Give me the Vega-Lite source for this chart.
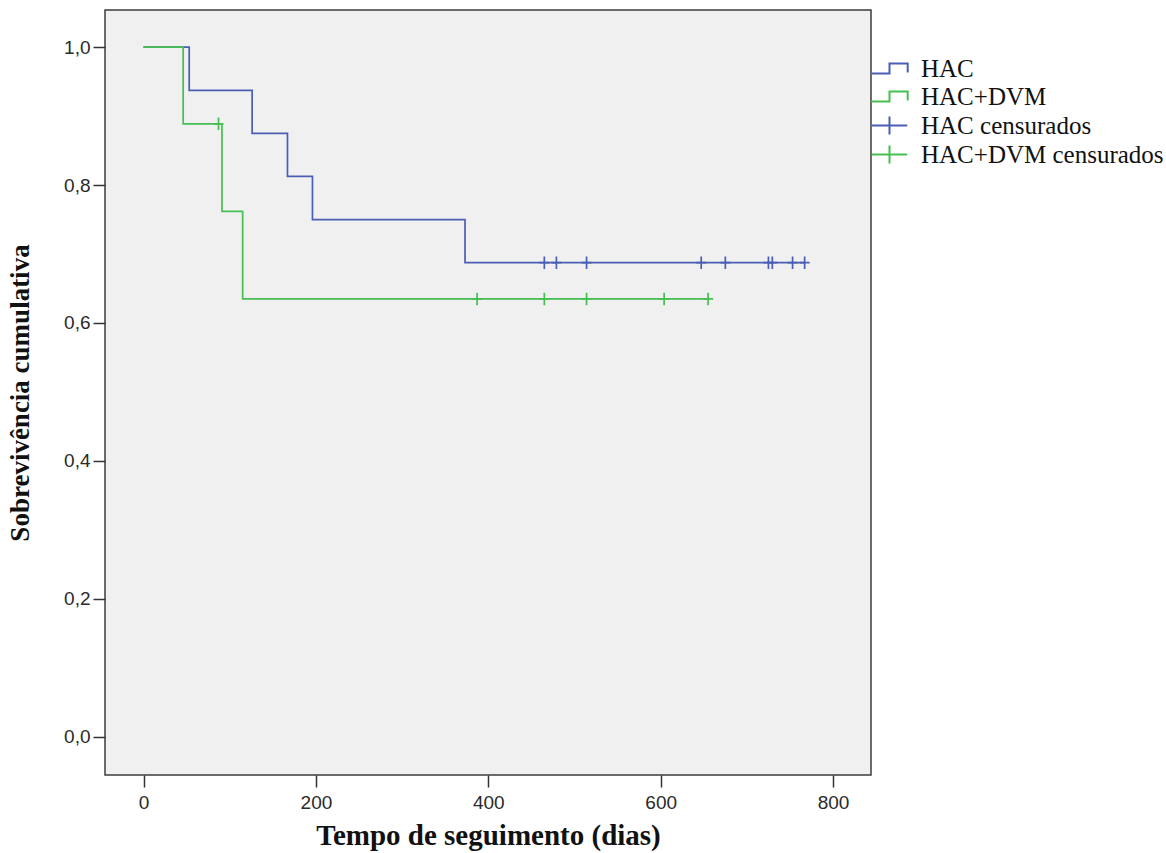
{
  "$schema": "https://vega.github.io/schema/vega-lite/v6.json",
  "autosize": {"type": "none"},
  "padding": {"left": 105, "top": 10, "right": 295, "bottom": 78},
  "width": 766,
  "height": 765,
  "background": "#ffffff",
  "config": {
    "view": {"fill": "#f0f0f0", "stroke": "#3c3c3c", "strokeWidth": 1.5},
    "axis": {
      "grid": false,
      "domain": false,
      "tickColor": "#333333",
      "tickWidth": 1.5,
      "tickSize": 12,
      "labelFont": "Liberation Sans",
      "labelFontSize": 19,
      "labelColor": "#2a2a2a",
      "titleFont": "Liberation Serif",
      "titleFontWeight": "bold",
      "titleColor": "#111111"
    }
  },
  "datasets": {
    "curvas": [
      {"serie": "HAC", "dias": 0, "sobrev": 1.0},
      {"serie": "HAC", "dias": 53, "sobrev": 0.9375},
      {"serie": "HAC", "dias": 126, "sobrev": 0.875},
      {"serie": "HAC", "dias": 167, "sobrev": 0.8125},
      {"serie": "HAC", "dias": 196, "sobrev": 0.75},
      {"serie": "HAC", "dias": 373, "sobrev": 0.6875},
      {"serie": "HAC", "dias": 767, "sobrev": 0.6875},
      {"serie": "HAC+DVM", "dias": 0, "sobrev": 1.0},
      {"serie": "HAC+DVM", "dias": 46, "sobrev": 0.8889},
      {"serie": "HAC+DVM", "dias": 91, "sobrev": 0.7619},
      {"serie": "HAC+DVM", "dias": 115, "sobrev": 0.6349},
      {"serie": "HAC+DVM", "dias": 655, "sobrev": 0.6349}
    ],
    "censuras": [
      {"serie": "HAC censurados", "dias": 465, "sobrev": 0.6875},
      {"serie": "HAC censurados", "dias": 479, "sobrev": 0.6875},
      {"serie": "HAC censurados", "dias": 514, "sobrev": 0.6875},
      {"serie": "HAC censurados", "dias": 647, "sobrev": 0.6875},
      {"serie": "HAC censurados", "dias": 675, "sobrev": 0.6875},
      {"serie": "HAC censurados", "dias": 725, "sobrev": 0.6875},
      {"serie": "HAC censurados", "dias": 729.5, "sobrev": 0.6875},
      {"serie": "HAC censurados", "dias": 753, "sobrev": 0.6875},
      {"serie": "HAC censurados", "dias": 767, "sobrev": 0.6875},
      {"serie": "HAC+DVM censurados", "dias": 87, "sobrev": 0.8889},
      {"serie": "HAC+DVM censurados", "dias": 387, "sobrev": 0.6349},
      {"serie": "HAC+DVM censurados", "dias": 465, "sobrev": 0.6349},
      {"serie": "HAC+DVM censurados", "dias": 514, "sobrev": 0.6349},
      {"serie": "HAC+DVM censurados", "dias": 604, "sobrev": 0.6349},
      {"serie": "HAC+DVM censurados", "dias": 655, "sobrev": 0.6349}
    ]
  },
  "encoding": {
    "x": {
      "field": "dias",
      "type": "quantitative",
      "scale": {"domain": [-44.7, 844], "nice": false, "zero": false},
      "axis": {
        "title": "Tempo de seguimento (dias)",
        "values": [0, 200, 400, 600, 800],
        "format": "d",
        "labelPadding": 6,
        "titleFontSize": 29,
        "titlePadding": 9
      }
    },
    "y": {
      "field": "sobrev",
      "type": "quantitative",
      "scale": {"domain": [-0.0558, 1.054], "nice": false, "zero": false},
      "axis": {
        "title": "Sobrevivência cumulativa",
        "values": [0, 0.2, 0.4, 0.6, 0.8, 1.0],
        "labelExpr": "replace(format(datum.value, '.1f'), '.', ',')",
        "labelPadding": 3,
        "titleFontSize": 27,
        "titlePadding": 29
      }
    },
    "color": {
      "field": "serie",
      "type": "nominal",
      "scale": {
        "domain": ["HAC", "HAC+DVM", "HAC censurados", "HAC+DVM censurados"],
        "range": ["#4a5eb3", "#45bf50", "#4a5eb3", "#45bf50"]
      },
      "legend": {
        "title": null,
        "orient": "none",
        "legendX": 772,
        "legendY": 46,
        "padding": 0,
        "symbolSize": 100,
        "symbolStrokeWidth": 2,
        "labelFont": "Liberation Serif",
        "labelFontSize": 25,
        "labelColor": "#111111",
        "labelOffset": 19,
        "labelLimit": 0,
        "rowPadding": 2,
        "encode": {
          "symbols": {
            "update": {
              "shape": {"signal": "indexof(datum.value, 'censurados') >= 0 ? 'M-3.54,0H3.54M0,-1.8V1.8' : 'M-3.64,1H0V-1H3.64V0.8'"},
              "fill": {"value": "transparent"},
              "stroke": {"signal": "scale('color', datum.value)"},
              "strokeWidth": {"value": 2},
              "opacity": {"value": 1}
            }
          }
        }
      }
    }
  },
  "layer": [
    {
      "data": {"name": "curvas"},
      "mark": {"type": "line", "interpolate": "step-after", "strokeWidth": 1.7}
    },
    {
      "data": {"name": "censuras"},
      "mark": {
        "type": "point",
        "shape": "M-1,0H1M0,-1.25V1.25",
        "size": 100,
        "filled": false,
        "strokeWidth": 1.7,
        "opacity": 1
      }
    }
  ]
}
